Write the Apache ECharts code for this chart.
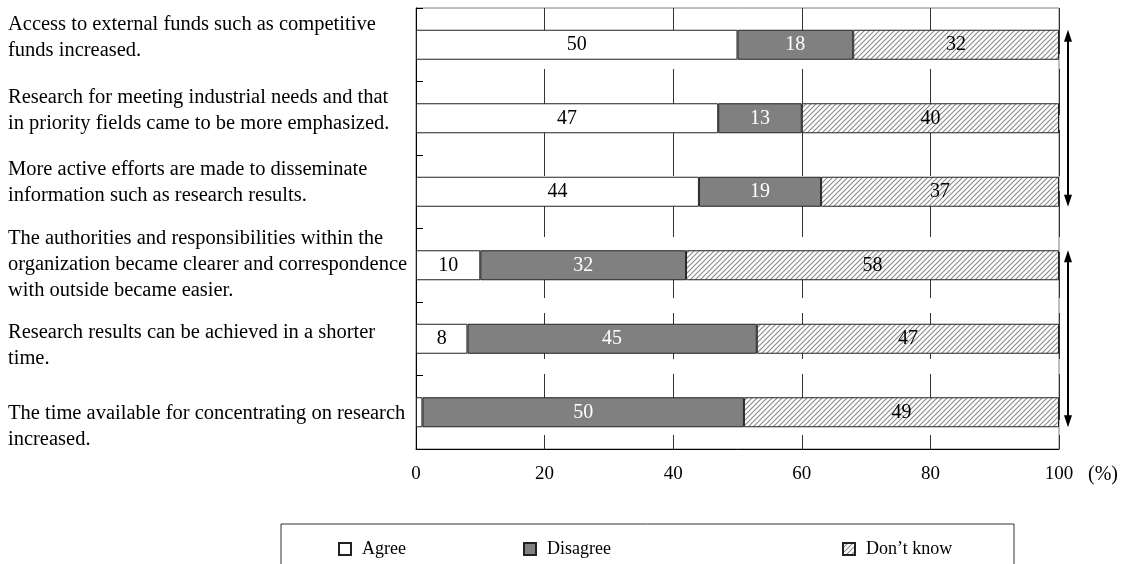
<!DOCTYPE html>
<html>
<head>
<meta charset="utf-8">
<script src="https://cdn.jsdelivr.net/npm/echarts@6/dist/echarts.min.js"></script>
<style>
  html, body { margin: 0; padding: 0; background: #fff; }
  #chart { width: 1122px; height: 564px; }
</style>
</head>
<body>
<div id="chart"></div>
<script>
// Survey statements, top to bottom
const categories = [
  'Access to external funds such as competitive\nfunds increased.',
  'Research for meeting industrial needs and that\nin priority fields came to be more emphasized.',
  'More active efforts are made to disseminate\ninformation such as research results.',
  'The authorities and responsibilities within the\norganization became clearer and correspondence\nwith outside became easier.',
  'Research results can be achieved in a shorter\ntime.',
  'The time available for concentrating on research\nincreased.'
];
const seriesNames = ['Agree', 'Disagree', 'Don\u2019t know'];
// Shares of answers (%)
const agree    = [50, 47, 44, 10, 8, 1];
const disagree = [18, 13, 19, 32, 45, 50];
const dontKnow = [32, 40, 37, 58, 47, 49];
// Percent axis
const xMin = 0, xMax = 100, xStep = 20;
// Statement groups marked by the double arrows on the right
const arrowGroups = [[0, 2], [3, 5]];

// ---- layout & style ----
const FONT = "'Liberation Serif', 'Times New Roman', serif";
const labelNudge = [-7.5, -7.5, -9.5, -1, 6.5, 14];   // vertical shift of each statement block
const LABEL_X = 8;
const BAR_H = 30;

function hatchPattern() {
  const c = document.createElement('canvas');
  const s = 5;
  c.width = s; c.height = s;
  const g = c.getContext('2d');
  g.fillStyle = '#ffffff';
  g.fillRect(0, 0, s, s);
  g.strokeStyle = '#8a8a8a';
  g.lineWidth = 1.1;
  g.beginPath();
  g.moveTo(-1, s + 1); g.lineTo(s + 1, -1);
  g.moveTo(-1, 1); g.lineTo(1, -1);
  g.moveTo(s - 1, s + 1); g.lineTo(s + 1, s - 1);
  g.stroke();
  return { image: c, repeat: 'repeat' };
}

const chart = echarts.init(document.getElementById('chart'), null, { renderer: 'canvas' });

function barSeries(name, values, fill, labelColor) {
  return {
    name: name,
    type: 'bar',
    stack: 'all',
    barWidth: BAR_H,
    data: values,
    itemStyle: { color: fill, borderColor: '#222', borderWidth: 1 },
    emphasis: { disabled: true },
    label: {
      show: true,
      position: 'inside',
      color: labelColor,
      fontFamily: FONT,
      fontSize: 20,
      formatter: p => (p.value >= 3 ? String(p.value) : '')
    }
  };
}

function legendAt(left, name) {
  return {
    left: left, top: 539, padding: 0,
    itemWidth: 12, itemHeight: 12,
    icon: 'rect',
    data: [name],
    selectedMode: false,
    textStyle: { fontFamily: FONT, fontSize: 18, color: '#000', lineHeight: 20, padding: [0, 0, 0, 6] }
  };
}

const option = {
  animation: false,
  backgroundColor: '#fff',
  grid: {
    left: 416, right: 63, top: 8, bottom: 115,
    outerBoundsMode: 'none',
    containLabel: false,
    show: true, borderColor: '#808080', borderWidth: 1, backgroundColor: 'transparent'
  },
  xAxis: {
    type: 'value',
    min: xMin, max: xMax, interval: xStep,
    name: '(%)',
    nameLocation: 'end',
    nameGap: 29,
    nameTextStyle: { fontFamily: FONT, fontSize: 20, color: '#000', align: 'left', verticalAlign: 'top', padding: [16, 0, 0, 0] },
    axisLine: { show: true, lineStyle: { color: '#000', width: 1 } },
    axisTick: { show: false },
    axisLabel: { fontFamily: FONT, fontSize: 19, color: '#000', margin: 16 },
    splitLine: { show: true, lineStyle: { color: '#333', width: 1, type: [46, 15] } }
  },
  yAxis: {
    type: 'category',
    inverse: true,
    data: categories,
    axisLine: { show: true, lineStyle: { color: '#000', width: 1 } },
    axisTick: { show: true, inside: true, length: 7, lineStyle: { color: '#000' } },
    axisLabel: { show: false },
    splitLine: { show: false }
  },
  legend: [
    legendAt(338, seriesNames[0]),
    legendAt(523, seriesNames[1]),
    legendAt(842, seriesNames[2])
  ],
  series: [
    barSeries(seriesNames[0], agree, '#ffffff', '#000'),
    barSeries(seriesNames[1], disagree, '#808080', '#ffffff'),
    barSeries(seriesNames[2], dontKnow, hatchPattern(), '#000')
  ]
};

chart.setOption(option);

// Statement labels, double-headed arrows beside the bar groups, legend frame
function doubleArrow(x, y1, y2) {
  const hl = 12, hw = 4;
  return [
    { type: 'line', shape: { x1: x, y1: y1 + hl - 1, x2: x, y2: y2 - hl + 1 }, style: { stroke: '#000', lineWidth: 2 }, silent: true },
    { type: 'polygon', shape: { points: [[x, y1], [x - hw, y1 + hl], [x + hw, y1 + hl]] }, style: { fill: '#000' }, silent: true },
    { type: 'polygon', shape: { points: [[x, y2], [x - hw, y2 - hl], [x + hw, y2 - hl]] }, style: { fill: '#000' }, silent: true }
  ];
}

const graphics = [];
categories.forEach((text, i) => {
  const yc = chart.convertToPixel({ yAxisIndex: 0 }, i) + labelNudge[i];
  graphics.push({
    type: 'text',
    x: LABEL_X,
    y: yc,
    silent: true,
    style: {
      text: text,
      fontFamily: FONT,
      fontSize: 20.5,
      lineHeight: 26,
      fill: '#000',
      align: 'left',
      verticalAlign: 'middle'
    }
  });
});
const xRight = chart.convertToPixel({ xAxisIndex: 0 }, xMax) + 9;
arrowGroups.forEach(([a, b]) => {
  const yTop = chart.convertToPixel({ yAxisIndex: 0 }, a) - BAR_H / 2;
  const yBot = chart.convertToPixel({ yAxisIndex: 0 }, b) + BAR_H / 2;
  graphics.push(...doubleArrow(xRight, yTop, yBot));
});
graphics.push({
  type: 'rect',
  shape: { x: 281, y: 524, width: 733, height: 60 },
  style: { fill: 'none', stroke: '#333', lineWidth: 1 },
  silent: true
});
chart.setOption({ graphic: graphics });
</script>
</body>
</html>
